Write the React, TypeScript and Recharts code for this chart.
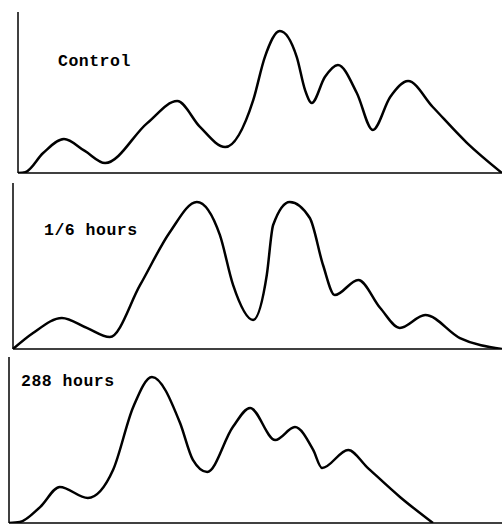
import { LineChart, Line, XAxis, YAxis, ReferenceLine } from 'recharts'

// positions along the trace (0 = start, 100 = end) and relative heights (0-100)
const controlX = [0, 1.5, 5.2, 9.5, 13.8, 18.0, 26.7, 32.9, 37.6, 42.8, 48.6, 51.0, 54.1, 57.6, 59.3, 60.7, 63.4, 66.1, 70.0, 73.3, 76.9, 80.6, 85.7, 92.8, 100]
const controlY = [0, 0.5, 12.4, 21.1, 13.7, 6.2, 31.0, 44.7, 28.6, 16.1, 45.3, 72.0, 88.2, 72.0, 51.6, 43.5, 59.6, 67.1, 49.7, 26.7, 47.2, 57.1, 41.0, 18.6, 0]

const sixthX = [0, 4.1, 10.0, 15.1, 19.8, 26.0, 32.1, 37.6, 42.3, 45.0, 49.1, 51.9, 53.2, 56.6, 60.7, 63.4, 65.8, 70.6, 75.1, 79.1, 84.3, 91.4, 100]
const sixthY = [0, 9.6, 18.7, 12.7, 7.2, 38.6, 70.5, 88.6, 68.7, 38.6, 17.5, 44.6, 74.7, 88.6, 78.9, 50.6, 32.5, 41.6, 24.7, 12.7, 20.5, 6.6, 0]

const h288X = [0, 2.2, 6.3, 10.3, 16.0, 21.1, 25.2, 29.0, 34.7, 37.3, 40.2, 45.4, 48.9, 54.0, 58.0, 61.7, 63.5, 68.8, 72.6, 79.3, 86.0]
const h288Y = [0, 0.6, 9.6, 21.7, 15.1, 31.9, 69.9, 88.0, 60.2, 38.0, 30.7, 57.8, 69.3, 50.0, 57.8, 44.0, 33.1, 44.0, 33.7, 15.7, 0]

const labels = ['Control', '1/6 hours', '288 hours']

const toRows = (xs: number[], ys: number[]) => xs.map((x, i) => ({ x, y: ys[i] }))

const panels = [
  { data: toRows(controlX, controlY), top: 0, height: 180, margin: { top: 12, right: 0, bottom: 7, left: 18 }, label: { left: 58, top: 52 } },
  { data: toRows(sixthX, sixthY), top: 175, height: 180, margin: { top: 8, right: 0, bottom: 6, left: 13 }, label: { left: 44, top: 221 } },
  { data: toRows(h288X, h288Y), top: 350, height: 178, margin: { top: 7, right: 0, bottom: 5, left: 9 }, label: { left: 21, top: 372 } },
]

export default function App() {
  return (
    <div style={{ position: 'absolute', top: 0, left: 0, width: 502, height: 528, background: '#fff' }}>
      {panels.map((p, i) => (
        <div key={i} style={{ position: 'absolute', top: p.top, left: 0 }}>
          <LineChart width={502} height={p.height} data={p.data} margin={p.margin}>
            <XAxis dataKey="x" type="number" domain={[0, 100]} hide />
            <YAxis type="number" domain={[0, 100]} allowDataOverflow hide />
            <ReferenceLine y={0} stroke="#000" strokeWidth={1.5} />
            <ReferenceLine x={0} stroke="#000" strokeWidth={1.5} />
            <Line dataKey="y" type="monotone" stroke="#000" strokeWidth={2.5} dot={false} isAnimationActive={false} />
          </LineChart>
        </div>
      ))}
      {panels.map((p, i) => (
        <div
          key={'l' + i}
          style={{
            position: 'absolute',
            left: p.label.left,
            top: p.label.top,
            fontFamily: '"Liberation Mono", monospace',
            fontWeight: 'bold',
            fontSize: 16.5,
            letterSpacing: 0.5,
            color: '#000',
            whiteSpace: 'nowrap',
          }}
        >
          {labels[i]}
        </div>
      ))}
    </div>
  )
}
